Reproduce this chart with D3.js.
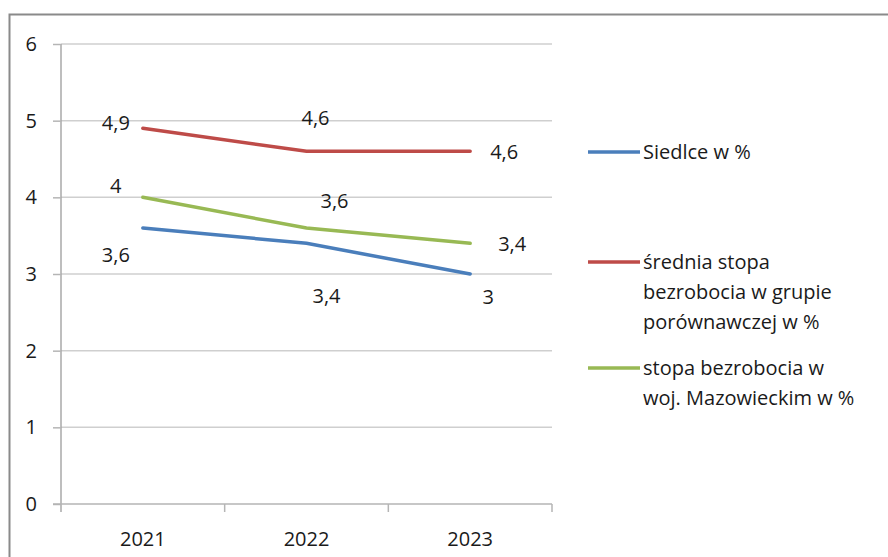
<!DOCTYPE html>
<html>
<head>
<meta charset="utf-8">
<script src="https://cdn.jsdelivr.net/npm/d3@7"></script>
<style>
  body { margin: 0; background: #fff; }
  svg text { font-family: "Open Sans", sans-serif; fill: #1a1a1a; }
</style>
</head>
<body>
<svg id="chart"></svg>
<script>
// data
var years = ['2021', '2022', '2023'];
var yTicks = [0, 1, 2, 3, 4, 5, 6];
var siedlce = [3.6, 3.4, 3.0];
var srednia = [4.9, 4.6, 4.6];
var mazowieckie = [4.0, 3.6, 3.4];

var width = 888;
var height = 557;
var plotLeft = 61, plotRight = 552, plotTop = 44, plotBottom = 504;

var series = [
  { name: ['Siedlce w %'], values: siedlce, color: '#4a7ebb', legendY: 152 },
  { name: ['średnia stopa', 'bezrobocia w grupie', 'porównawczej w %'], values: srednia, color: '#be4b48', legendY: 262 },
  { name: ['stopa bezrobocia w', 'woj. Mazowieckim w %'], values: mazowieckie, color: '#98b954', legendY: 368 }
];

// where each data label sits relative to its point (dx, dy), per series
var labelOffsets = [
  [[-27, 34], [20, 60], [18, 30]],
  [[-27, 2], [9, -26], [34, 8]],
  [[-27, -4], [28, -20], [42, 8]]
];

var svg = d3.select('#chart')
  .attr('width', width)
  .attr('height', height);

// outer frame of the chart (runs off the page right and bottom)
svg.append('path')
  .attr('d', 'M9.5,' + (height + 2) + 'V14.5H' + (width + 2))
  .attr('fill', 'none')
  .attr('stroke', '#8a8a8a')
  .attr('stroke-width', 2);

var x = d3.scaleBand()
  .domain(years)
  .range([plotLeft, plotRight]);

var y = d3.scaleLinear()
  .domain([0, 6])
  .range([plotBottom, plotTop]);

// gridlines
svg.append('g')
  .selectAll('line')
  .data(yTicks.filter(d => d > 0))
  .enter()
  .append('line')
    .attr('x1', plotLeft)
    .attr('x2', plotRight)
    .attr('y1', d => y(d))
    .attr('y2', d => y(d))
    .attr('stroke', '#cfcfcf')
    .attr('stroke-width', 1.5);

var yAxis = d3.axisLeft(y)
  .tickValues(yTicks)
  .tickSize(8)
  .tickPadding(16)
  .tickSizeOuter(0)
  .tickFormat(d3.format('d'));

svg.append('g')
  .attr('class', 'y-axis')
  .attr('transform', `translate(${plotLeft}, 0)`)
  .call(yAxis);

// x axis: ticks sit on category boundaries like Excel
var xAxisG = svg.append('g')
  .attr('class', 'x-axis')
  .attr('transform', `translate(0, ${plotBottom})`);

xAxisG.append('line')
  .attr('x1', plotLeft - 8)
  .attr('x2', plotRight)
  .attr('stroke', '#b5b5b5')
  .attr('stroke-width', 1.5);

xAxisG.selectAll('.bound')
  .data(years.slice(1).concat(['end']))
  .enter()
  .append('line')
    .attr('class', 'bound')
    .attr('x1', (d, i) => i < years.length - 1 ? x(d) : plotRight)
    .attr('x2', (d, i) => i < years.length - 1 ? x(d) : plotRight)
    .attr('y1', 0)
    .attr('y2', 8)
    .attr('stroke', '#b5b5b5')
    .attr('stroke-width', 1.5);

xAxisG.selectAll('.year')
  .data(years)
  .enter()
  .append('text')
    .attr('class', 'year')
    .attr('x', d => x(d) + x.bandwidth() / 2)
    .attr('y', 42)
    .attr('text-anchor', 'middle')
    .style('font-size', '20px')
    .text(d => d);

svg.select('.y-axis').select('.domain')
  .attr('stroke', '#a8a8a8')
  .attr('stroke-width', 1.5)
  .attr('d', `M0,${plotTop}V${plotBottom + 8}`);
svg.selectAll('.y-axis .tick line')
  .attr('stroke', '#b5b5b5')
  .attr('stroke-width', 1.5);
svg.selectAll('.y-axis .tick text')
  .style('font-size', '20px')
  .attr('fill', '#1a1a1a');

var line = d3.line()
  .x((d, i) => x(years[i]) + x.bandwidth() / 2)
  .y(d => y(d));

series.forEach(function(s, si) {
  svg.append('path')
    .datum(s.values)
    .attr('d', line)
    .attr('fill', 'none')
    .attr('stroke', s.color)
    .attr('stroke-width', 3.5)
    .attr('stroke-linecap', 'round');

  svg.append('g')
    .selectAll('text')
    .data(s.values)
    .enter()
    .append('text')
      .attr('x', (d, i) => x(years[i]) + x.bandwidth() / 2 + labelOffsets[si][i][0])
      .attr('y', (d, i) => y(d) + labelOffsets[si][i][1])
      .attr('text-anchor', 'middle')
      .style('font-size', '20px')
      .text(d => String(d).replace('.', ','));

  // legend
  var lg = svg.append('g')
    .attr('transform', `translate(588, ${s.legendY})`);
  lg.append('line')
    .attr('x1', 0)
    .attr('x2', 52)
    .attr('y1', 0)
    .attr('y2', 0)
    .attr('stroke', s.color)
    .attr('stroke-width', 3.5);
  lg.selectAll('text')
    .data(s.name)
    .enter()
    .append('text')
      .attr('x', 55)
      .attr('y', (d, i) => i * 30 + 7)
      .style('font-size', '20px')
      .text(d => d);
});
</script>
</body>
</html>
